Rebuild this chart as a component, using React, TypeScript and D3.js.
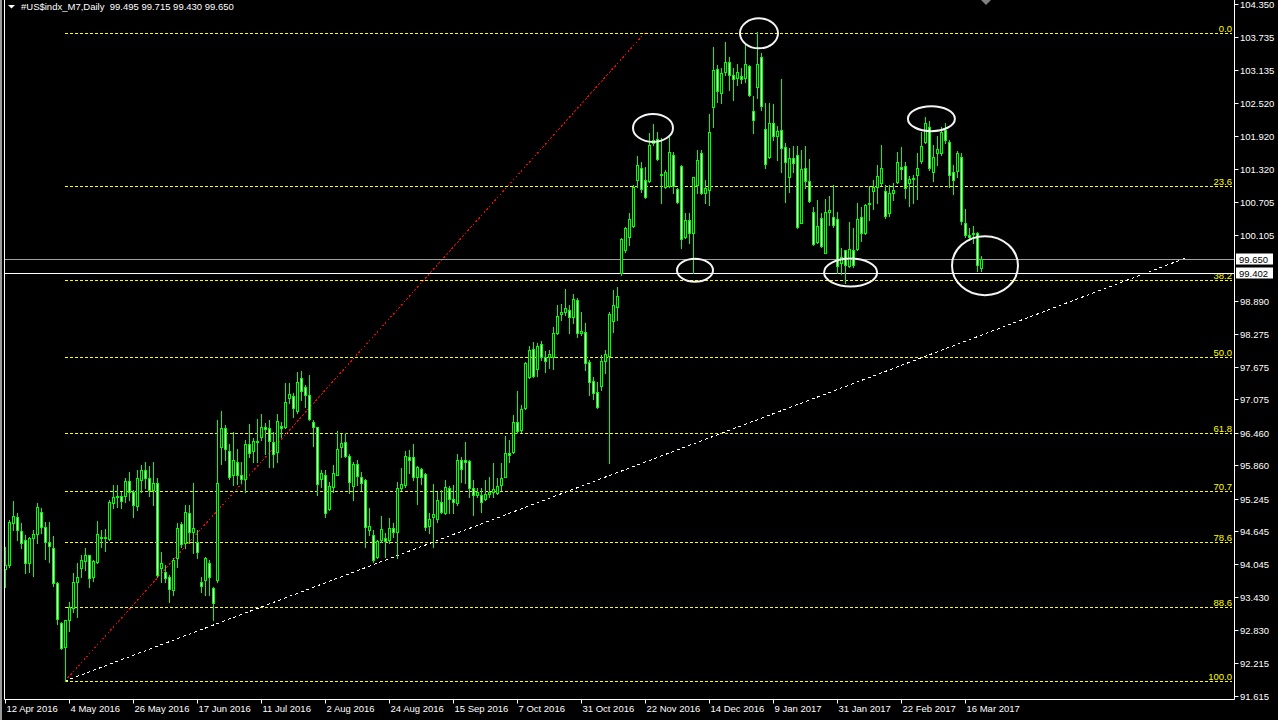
import React from "react";
import * as d3 from "d3";

const W = 1278;
const H = 720;

const header = "#US$indx_M7,Daily  99.495 99.715 99.430 99.650";

// Daily candles [open, high, low, close], 12 Apr 2016 .. 22 Mar 2017
const ohlc: [number, number, number, number][] = [
  [93.95,94.36,93.62,94.02],[94.02,94.85,93.99,94.81],[94.80,95.20,94.67,94.93],[94.91,94.98,94.48,94.67],
  [94.65,94.80,94.34,94.43],[94.48,94.58,93.88,94.06],[94.06,94.54,93.90,94.52],[94.52,94.67,93.82,94.59],
  [94.59,95.17,94.43,95.09],[95.00,95.07,94.61,94.72],[94.72,94.82,94.13,94.45],[94.45,94.82,94.08,94.37],
  [94.34,94.56,93.64,93.69],[93.69,93.71,92.94,93.03],[92.96,92.98,92.48,92.50],[92.52,93.01,91.89,93.01],
  [93.01,93.35,92.81,93.25],[93.23,93.88,93.16,93.71],[93.71,94.06,93.07,93.80],[93.97,94.21,93.80,94.12],
  [94.10,94.34,93.93,94.21],[94.21,94.21,93.62,93.78],[93.80,94.12,93.73,94.10],[94.08,94.83,94.06,94.59],
  [94.54,94.67,94.36,94.52],[94.52,94.69,94.28,94.54],[94.50,95.22,94.48,95.18],[95.17,95.50,95.07,95.28],
  [95.28,95.50,95.09,95.29],[95.29,95.37,95.07,95.20],[95.29,95.62,95.18,95.57],[95.57,95.74,95.22,95.37],
  [95.37,95.40,94.91,95.13],[95.11,95.77,95.04,95.62],[95.59,95.86,95.37,95.77],[95.77,95.93,95.44,95.62],
  [95.62,95.84,95.30,95.40],[95.40,95.93,95.13,95.53],[95.53,95.62,93.80,93.84],[93.97,94.26,93.71,94.06],
  [93.90,94.02,93.71,93.78],[93.80,93.84,93.34,93.58],[93.56,94.15,93.47,94.12],[94.15,94.80,93.99,94.70],
  [94.78,94.82,94.36,94.41],[94.43,95.13,94.34,95.00],[94.98,95.13,94.43,94.63],[94.63,95.53,94.24,94.70],
  [94.45,94.67,94.15,94.26],[93.71,93.80,93.53,93.64],[93.75,94.17,93.47,94.15],[94.06,94.12,93.47,93.80],
  [93.60,93.62,93.01,93.33],[93.75,96.69,93.71,95.53],[96.19,96.86,95.89,96.54],[96.54,96.60,95.96,96.16],
  [96.12,96.25,95.61,95.64],[95.68,96.47,95.50,95.96],[95.92,96.16,95.52,95.68],[95.68,95.92,95.53,95.61],
  [95.61,96.32,95.37,96.25],[96.25,96.62,96.01,96.09],[96.12,96.36,95.92,96.31],[96.31,96.71,95.92,96.29],
  [96.38,96.80,96.32,96.56],[96.56,96.64,96.07,96.53],[96.54,96.69,95.83,96.31],[96.29,96.47,95.83,96.07],
  [96.10,96.80,95.92,96.67],[96.58,96.65,96.38,96.54],[96.56,97.37,96.54,97.02],[97.10,97.37,97.00,97.17],
  [97.13,97.19,96.75,96.91],[96.86,97.58,96.82,97.39],[97.46,97.59,97.06,97.23],[97.30,97.34,96.93,97.15],
  [97.15,97.52,96.69,96.71],[96.65,96.69,96.21,96.56],[96.56,96.56,95.31,95.51],[95.61,95.77,95.46,95.72],
  [95.68,95.77,94.91,94.98],[95.05,95.55,95.04,95.48],[95.46,95.86,95.37,95.72],[95.68,96.49,95.68,96.16],
  [96.19,96.43,96.01,96.27],[96.29,96.45,96.01,96.03],[96.03,96.07,95.35,95.55],[95.48,95.92,95.22,95.88],
  [95.88,95.96,95.50,95.66],[95.64,95.74,95.40,95.53],[95.59,95.61,94.36,94.72],[94.67,95.07,94.58,94.74],
  [94.58,94.67,94.08,94.12],[94.17,94.48,94.15,94.47],[94.48,94.93,94.45,94.69],[94.52,94.61,94.17,94.47],
  [94.48,94.89,94.43,94.70],[94.70,94.80,94.54,94.63],[94.63,95.55,94.15,95.44],[95.44,95.81,95.40,95.51],
  [95.50,96.12,95.46,96.03],[96.01,96.14,95.72,95.96],[96.01,96.25,95.59,95.64],[95.64,95.85,95.15,95.83],
  [95.79,95.81,95.52,95.64],[95.70,95.72,94.67,94.72],[94.74,94.98,94.61,94.87],[94.91,95.52,94.36,94.96],
  [94.87,95.37,94.82,95.22],[95.18,95.40,94.98,95.00],[94.98,95.59,94.96,95.46],[95.44,95.48,94.98,95.24],
  [95.24,95.50,94.98,95.18],[95.17,96.07,95.13,95.96],[95.96,96.01,95.55,95.79],[95.96,96.29,95.53,95.92],
  [95.94,95.96,95.28,95.44],[95.44,95.59,94.94,95.31],[95.31,95.44,95.28,95.37],[95.31,95.44,95.00,95.18],
  [95.24,95.59,95.22,95.33],[95.33,95.64,95.28,95.37],[95.37,95.91,95.28,95.42],[95.35,95.62,95.33,95.48],
  [95.50,95.91,95.40,95.62],[95.64,96.40,95.64,96.09],[96.09,96.32,95.92,96.05],[96.10,96.78,96.09,96.65],
  [96.65,97.23,96.45,96.49],[96.51,96.97,96.47,96.89],[96.91,97.76,96.89,97.74],[97.48,98.05,97.46,97.98],
  [98.00,98.13,97.48,97.50],[97.63,98.11,97.50,98.05],[98.09,98.15,97.80,97.85],[97.85,97.96,97.58,97.78],
  [97.85,97.98,97.65,97.91],[97.85,98.40,97.63,98.29],[98.29,98.81,98.27,98.61],[98.64,98.83,98.53,98.68],
  [98.68,99.10,98.62,98.75],[98.72,98.81,98.29,98.59],[98.59,99.01,98.48,98.92],[98.90,98.94,98.22,98.29],
  [98.29,98.68,98.26,98.33],[98.31,98.48,97.61,97.74],[97.76,97.80,97.15,97.39],[97.41,97.48,97.08,97.19],
  [97.21,97.39,96.91,96.93],[97.32,97.89,97.24,97.78],[97.78,97.98,97.56,97.91],[97.87,98.68,95.91,98.64],
  [98.51,99.08,98.31,98.81],[98.77,99.14,98.53,98.97],[99.40,100.04,99.36,100.02],[99.82,100.24,99.78,100.22],
  [100.06,100.50,99.91,100.39],[100.26,101.02,100.24,100.98],[101.11,101.55,100.98,101.38],[101.33,101.44,100.89,100.94],
  [101.11,101.35,100.78,100.80],[101.09,101.97,101.07,101.75],[101.79,102.14,101.75,101.84],[101.86,101.99,101.48,101.49],
  [101.22,101.88,100.69,101.20],[100.98,101.29,100.96,101.26],[101.00,101.90,100.98,101.62],[101.57,101.62,100.87,101.00],
  [100.94,100.96,100.69,100.70],[101.37,101.38,99.86,100.02],[100.06,100.50,100.04,100.37],[100.37,100.50,99.95,100.13],
  [100.13,101.16,99.40,101.16],[101.02,101.66,100.87,101.48],[101.60,101.66,100.85,100.87],[100.87,101.11,100.69,100.96],
  [100.92,102.32,100.65,101.99],[102.45,103.56,102.08,103.13],[103.15,103.22,102.54,102.75],[102.71,103.17,102.53,103.08],
  [103.10,103.65,103.04,103.28],[103.28,103.37,102.76,103.04],[103.04,103.17,102.58,102.97],[102.98,103.24,102.86,103.10],
  [103.02,103.17,102.89,102.97],[102.98,103.59,102.91,103.24],[103.21,103.22,102.65,102.67],[102.38,102.65,101.97,102.21],
  [102.82,103.83,102.62,103.24],[103.37,103.44,102.40,102.47],[102.05,102.53,101.34,101.40],[101.53,102.53,101.51,102.16],
  [102.16,102.51,101.84,101.92],[101.92,102.10,101.48,102.01],[102.03,102.97,101.26,101.70],[101.72,101.79,100.70,101.44],
  [101.16,101.70,100.89,101.51],[101.51,101.73,101.26,101.42],[101.57,101.73,100.22,100.24],[100.32,101.66,100.32,101.31],
  [101.33,101.73,100.96,101.09],[101.09,101.49,100.70,100.72],[100.52,100.61,99.91,99.93],[99.97,100.74,99.95,100.26],
  [100.41,100.50,99.87,99.89],[99.76,100.76,99.76,100.52],[100.52,100.81,100.28,100.56],[100.43,101.02,100.24,100.28],
  [100.39,100.52,99.40,99.53],[99.58,99.86,99.38,99.69],[99.82,99.82,99.21,99.54],[99.53,100.34,99.51,99.84],
  [99.82,100.22,99.51,99.54],[99.84,100.69,99.82,100.39],[100.43,100.61,99.98,100.13],[100.13,100.67,100.11,100.65],
  [100.67,101.00,100.37,100.69],[100.91,101.11,100.58,100.98],[100.98,101.38,100.69,101.18],[101.05,101.75,101.02,101.33],
  [100.91,101.02,100.41,100.45],[100.50,101.02,100.45,100.87],[100.87,101.05,100.74,100.92],[101.07,101.62,101.05,101.44],
  [101.35,101.72,101.13,101.31],[101.37,101.44,100.78,100.96],[101.05,101.18,100.63,101.13],[101.13,101.20,100.69,101.14],
  [101.20,101.61,100.76,101.33],[101.46,101.99,101.42,101.73],[101.81,102.27,101.79,102.16],[102.08,102.19,101.29,101.33],
  [101.26,101.75,101.09,101.53],[101.60,101.92,101.38,101.68],[101.60,102.08,101.57,101.99],[102.03,102.16,101.79,101.84],
  [101.81,101.84,100.98,101.20],[101.26,101.38,100.85,101.11],[101.27,101.64,101.16,101.60],[101.53,101.60,100.30,100.35],
  [100.32,100.57,100.06,100.10],[100.10,100.22,100.00,100.06],[100.11,100.26,99.95,100.13],[100.13,100.15,99.43,99.54],
  [99.495,99.715,99.43,99.65],
];

const dateTicks = [
  "12 Apr 2016", "4 May 2016", "26 May 2016", "17 Jun 2016", "11 Jul 2016", "2 Aug 2016",
  "24 Aug 2016", "15 Sep 2016", "7 Oct 2016", "31 Oct 2016", "22 Nov 2016", "14 Dec 2016",
  "9 Jan 2017", "31 Jan 2017", "22 Feb 2017", "16 Mar 2017",
];
const barsPerDateTick = 16;

const priceTicks = [
  "104.350", "103.735", "103.135", "102.520", "101.920", "101.320", "100.705", "100.105",
  "98.890", "98.275", "97.675", "97.075", "96.460", "95.860", "95.245", "94.645",
  "94.045", "93.430", "92.830", "92.215", "91.615",
];

const fibLevels = [0, 23.6, 38.2, 50, 61.8, 70.7, 78.6, 88.6, 100];
const fibLabels = ["0.0", "23.6", "38.2", "50.0", "61.8", "70.7", "78.6", "88.6", "100.0"];
const fibLowBar = 15;
const fibLow = 91.89;
const fibHighBar = 160;
const fibHigh = 103.82;

const trendFromBar = 15;
const trendFrom = 91.89;
const trendToBar = 295;
const trendTo = 99.67;

const bidPrice = 99.65;
const hLinePrice = 99.402;
const priceBoxes = ["99.650", "99.402"];

// annotation ellipses: [bar, price, rx, ry]
const ellipses: [number, number, number, number][] = [
  [162, 102.07, 20, 14],
  [188.5, 103.81, 19, 15],
  [172.5, 99.45, 18, 11.5],
  [211.4, 99.41, 26.5, 14],
  [231.6, 102.24, 23.5, 12.5],
  [245, 99.535, 33, 29.5],
];

const FONT = "'Liberation Sans', Arial, sans-serif";
const GREEN = "#00ff00";

export default function App() {
  const x = d3.scaleLinear().domain([0, 307]).range([5, 1233]);
  const y = d3.scaleLinear().domain([91.615, 104.35]).range([696, 4]);
  const plotRight = 1234.5;
  const plotBottom = 699.5;
  const fibX1 = x(fibLowBar);
  const fibX2 = 1232;

  const candles = ohlc.map((d, i) => {
    const [o, h, l, c] = d;
    const cx = Math.round(x(i));
    const yO = Math.round(y(o));
    const yC = Math.round(y(c));
    const yH = Math.round(y(h));
    const yL = Math.round(y(l));
    const top = Math.min(yO, yC);
    const bot = Math.max(yO, yC);
    const bull = c >= o;
    return (
      <g key={i}>
        <line x1={cx + 0.5} x2={cx + 0.5} y1={yH} y2={yL + 1} stroke={GREEN} strokeWidth={1} />
        <rect x={cx - 1} y={top} width={3} height={Math.max(1, bot - top + 1)} fill={GREEN} />
        {bot - top >= 2 && (
          <rect x={cx} y={top + 1} width={1} height={bot - top - 1} fill={bull ? "#000" : "#fff"} />
        )}
      </g>
    );
  });

  return (
    <svg
      width={W}
      height={H}
      style={{ position: "absolute", left: 0, top: 0, display: "block", background: "#000" }}
    >
      <rect x={0} y={0} width={W} height={H} fill="#000" />
      <rect x={0} y={0} width={2} height={H} fill="#9a9a9a" />

      {/* Fibonacci levels */}
      {fibLevels.map((lv, k) => {
        const p = fibHigh - (fibHigh - fibLow) * (lv / 100);
        const yy = Math.round(y(p)) + 0.5;
        return (
          <g key={"fib" + k}>
            <line x1={fibX1} x2={fibX2} y1={yy} y2={yy} stroke="#ffff00" strokeWidth={1} strokeDasharray="3,2" shapeRendering="crispEdges" />
            <text x={fibX2} y={yy - 2} fill="#ffff00" fontFamily={FONT} fontSize={9.5} textAnchor="end">
              {fibLabels[k]}
            </text>
          </g>
        );
      })}

      {/* Fibonacci diagonal */}
      <line
        x1={x(fibLowBar)} y1={y(fibLow)} x2={x(fibHighBar)} y2={y(fibHigh)}
        stroke="#ff0000" strokeWidth={1} strokeDasharray="2,2" shapeRendering="crispEdges"
      />
      {/* trendline */}
      <line
        x1={x(trendFromBar)} y1={y(trendFrom)} x2={x(trendToBar)} y2={y(trendTo)}
        stroke="#ffffff" strokeWidth={1} strokeDasharray="3,3" shapeRendering="crispEdges"
      />

      {/* horizontal lines */}
      <line x1={5} x2={plotRight} y1={Math.round(y(bidPrice)) + 0.5} y2={Math.round(y(bidPrice)) + 0.5} stroke="#a0a0a0" strokeWidth={1} />
      <line x1={5} x2={plotRight} y1={Math.round(y(hLinePrice)) + 0.5} y2={Math.round(y(hLinePrice)) + 0.5} stroke="#ffffff" strokeWidth={1} />

      {candles}

      {/* annotation ellipses */}
      {ellipses.map((e, k) => (
        <ellipse key={"el" + k} cx={x(e[0])} cy={y(e[1])} rx={e[2]} ry={e[3]} fill="none" stroke="#f4f4f4" strokeWidth={2} />
      ))}

      {/* frame */}
      <line x1={4.5} x2={4.5} y1={0} y2={plotBottom} stroke="#fff" />
      <line x1={plotRight} x2={plotRight} y1={0} y2={plotBottom} stroke="#fff" />
      <line x1={4.5} x2={plotRight} y1={plotBottom} y2={plotBottom} stroke="#fff" />

      {/* price axis */}
      {priceTicks.map((t, k) => {
        const yy = Math.round(y(+t)) + 0.5;
        return (
          <g key={"pt" + k}>
            <line x1={plotRight} x2={plotRight + 4} y1={yy} y2={yy} stroke="#fff" />
            <text x={1240} y={yy} dy="0.35em" fill="#fff" fontFamily={FONT} fontSize={9.5}>{t}</text>
          </g>
        );
      })}
      {[bidPrice, hLinePrice].map((p, k) => {
        const yy = Math.round(y(p));
        return (
          <g key={"pb" + k}>
            <rect x={1236} y={yy - 5.5} width={37} height={11} fill="#fff" />
            <text x={1239} y={yy + 0.5} dy="0.35em" fill="#000" fontFamily={FONT} fontSize={9.5}>{priceBoxes[k]}</text>
          </g>
        );
      })}

      {/* date axis */}
      {dateTicks.map((t, k) => {
        const xx = Math.round(x(k * barsPerDateTick)) + 0.5;
        return (
          <g key={"dt" + k}>
            <line x1={xx} x2={xx} y1={plotBottom} y2={plotBottom + 4} stroke="#fff" />
            <text x={xx + 1} y={712} fill="#fff" fontFamily={FONT} fontSize={9.5}>{t}</text>
          </g>
        );
      })}

      {/* header */}
      <polygon points="8,5 15,5 11.5,8.5" fill="#fff" />
      <text x={21} y={10} fill="#fff" fontFamily={FONT} fontSize={9.5} style={{ whiteSpace: "pre" }}>
        {header}
      </text>
      <polygon points="981,0 991,0 986,5" fill="#808080" />
    </svg>
  );
}
